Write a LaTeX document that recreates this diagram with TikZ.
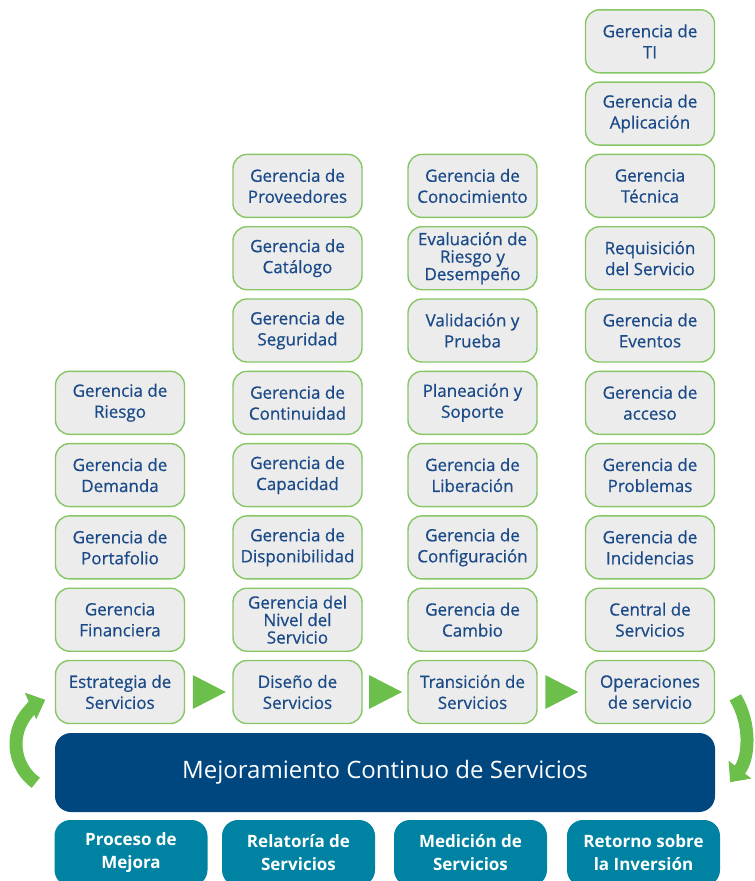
\documentclass[tikz,border=0pt]{standalone}
\usepackage{fontspec}
\setmainfont{Open Sans}
\newfontfamily\procfont{Open Sans}[FakeBold=0.6]
\usepackage{tikz}
\usetikzlibrary{arrows.meta,positioning,calc}
\definecolor{ItilGreen}{HTML}{6BBF4A}
\definecolor{ItilLine}{HTML}{86C665}
\definecolor{ItilGray}{HTML}{ECECEC}
\definecolor{ItilText}{HTML}{1B4A88}
\definecolor{ItilNavy}{HTML}{00467F}
\definecolor{ItilTeal}{HTML}{0083A2}

\begin{document}
\begin{tikzpicture}[x=1pt,y=-1pt,
  proc/.style={draw=ItilLine,line width=1.4pt,fill=ItilGray,rounded corners=14pt,
    minimum width=129pt,minimum height=63pt,inner sep=1pt,align=center,
    text=ItilText,font=\procfont\fontsize{17}{21}\selectfont},
  tightlines/.style={font=\procfont\fontsize{17}{17.5}\selectfont},
  basebox/.style={fill=ItilTeal,rounded corners=16pt,minimum width=153pt,
    minimum height=66pt,align=center,text=white,font=\bfseries\fontsize{17}{23}\selectfont},
  cyclearrow/.style={draw=ItilGreen,line width=13pt,-{Triangle[width=28pt,length=16pt]}}]
  \useasboundingbox (0,0) rectangle (755,881);
  \clip (0,0) rectangle (755,881);
  % four columns of processes
  \foreach \txt [count=\i from 0] in {{Estrategia de\\Servicios},{Gerencia\\Financiera},
      {Gerencia de\\Portafolio},{Gerencia de\\Demanda},{Gerencia de\\Riesgo}}
    \node[proc] (estr-\i) at (120,692-72.3*\i) {\txt};
  \foreach \txt/\sty [count=\i from 0] in {{Diseño de\\Servicios}/{},
      {Gerencia del\\Nivel del\\Servicio}/tightlines,{Gerencia de\\Disponibilidad}/{},
      {Gerencia de\\Capacidad}/{},{Gerencia de\\Continuidad}/{},{Gerencia de\\Seguridad}/{},
      {Gerencia de\\Catálogo}/{},{Gerencia de\\Proveedores}/{}}
    \node[proc,\sty] (dis-\i) at (297.5,692-72.3*\i) {\txt};
  \foreach \txt/\sty [count=\i from 0] in {{Transición de\\Servicios}/{},
      {Gerencia de\\Cambio}/{},{Gerencia de\\Configuración}/{},{Gerencia de\\Liberación}/{},
      {Planeación y\\Soporte}/{},{Validación y\\Prueba}/{},
      {Evaluación de\\Riesgo y\\Desempeño}/tightlines,{Gerencia de\\Conocimiento}/{}}
    \node[proc,\sty] (tra-\i) at (472.5,692-72.3*\i) {\txt};
  \foreach \txt [count=\i from 0] in {{Operaciones\\de servicio},{Central de\\Servicios},
      {Gerencia de\\Incidencias},{Gerencia de\\Problemas},{Gerencia de\\acceso},
      {Gerencia de\\Eventos},{Requisición\\del Servicio},{Gerencia\\Técnica},
      {Gerencia de\\Aplicación},{Gerencia de\\TI}}
    \node[proc] (ope-\i) at (650,692-72.3*\i) {\txt};
  % green triangles between the phases
  \foreach \a/\b in {estr-0/dis-0,dis-0/tra-0,tra-0/ope-0}
    \fill[ItilGreen] ($(\a.east)!0.5!(\b.west)+(-16,-17)$) -- ++(33,17) -- ++(-33,17) -- cycle;
  % continual improvement bar
  \node[fill=ItilNavy,rounded corners=16pt,minimum width=660pt,minimum height=79pt,
    text=white,font=\fontsize{24}{28}\selectfont] (mejora) at (385,772.5)
    {Mejoramiento Continuo de Servicios};
  \foreach \x/\txt [count=\i] in {131/{Proceso de\\Mejora},298.5/{Relatoría de\\Servicios},
      470.5/{Medición de\\Servicios},643.5/{Retorno sobre\\la Inversión}}
    \node[basebox] (med-\i) at (\x,853) {\txt};
  % cycle arrows
  \coordinate (loop-l) at (35.8,782.8);
  \coordinate (loop-r) at (735.3,697.4);
  \draw[cyclearrow] (loop-l) arc[start angle=126,end angle=247,radius=48];
  \draw[cyclearrow] (loop-r) arc[start angle=-31,end angle=38,radius=75];
\end{tikzpicture}
\end{document}
